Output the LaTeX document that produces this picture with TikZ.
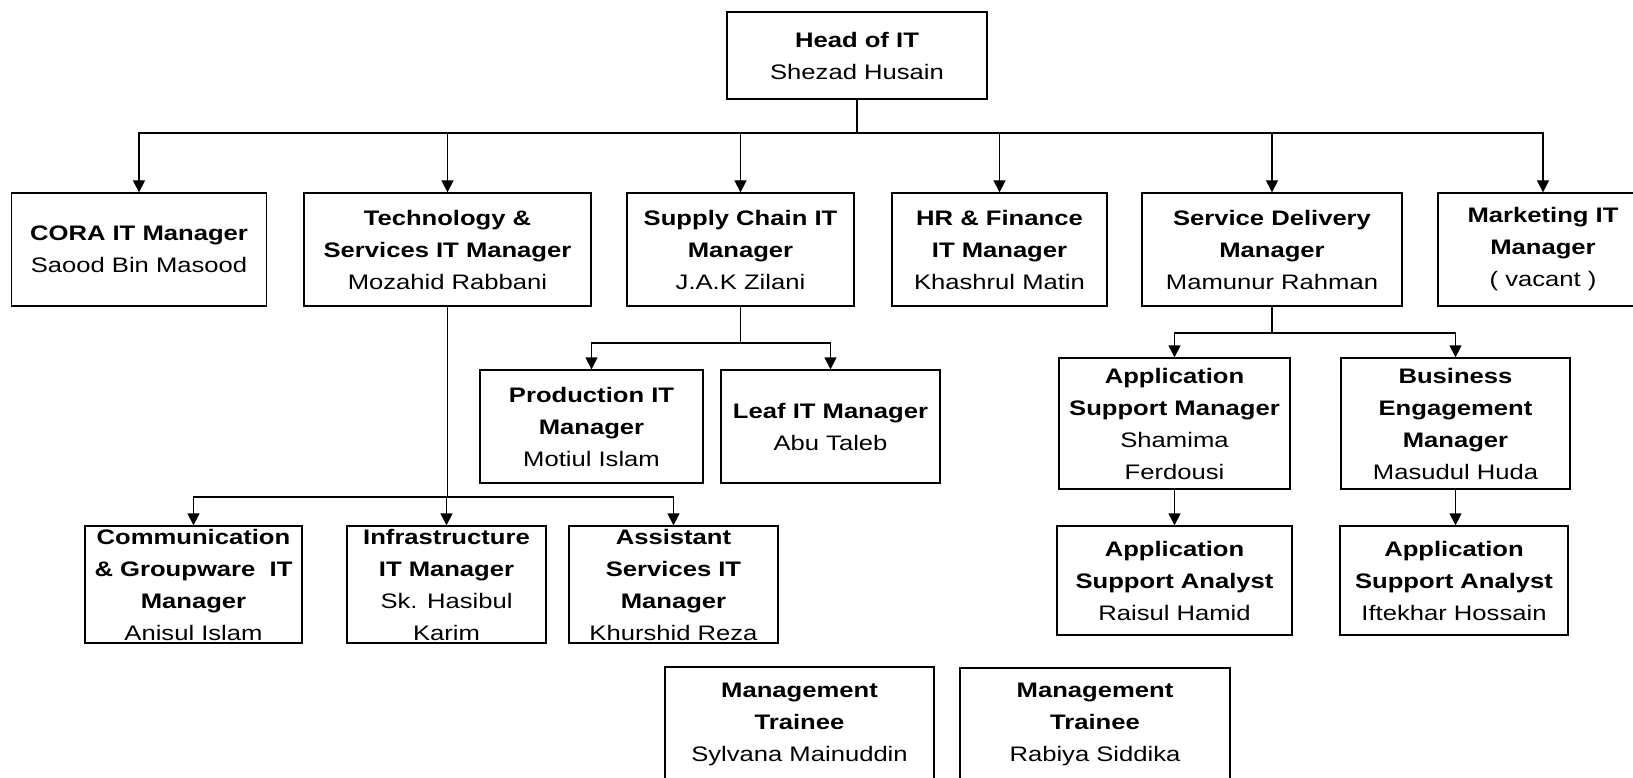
\documentclass[tikz,border=0pt]{standalone}
\usepackage{fontspec}
\setmainfont{Liberation Sans}[FakeStretch=1.22]
\usetikzlibrary{arrows.meta}

\tikzset{
  box/.style={draw, line width=1.3pt, inner sep=0pt, align=center,
    font=\fontsize{21}{32}\selectfont},
  link/.style={line width=1.3pt},
  arr/.style={link, -{Triangle[width=12pt,length=12pt]}}
}

\begin{document}
\begin{tikzpicture}[x=1pt,y=-1pt]
\useasboundingbox (0,0) rectangle (1633,778);

% top level
\node[box, minimum width=260pt, minimum height=87pt] (head) at (857,55.5)
  {\textbf{Head of IT}\\Shezad Husain};

% managers reporting to the head of IT
\node[box, minimum width=255pt, minimum height=113pt] (cora) at (139,249.5)
  {\textbf{CORA IT Manager}\\Saood Bin Masood};
\node[box, minimum width=287pt, minimum height=113pt] (tech) at (447.5,249.5)
  {\textbf{Technology \&}\\\textbf{Services IT Manager}\\Mozahid Rabbani};
\node[box, minimum width=227pt, minimum height=113pt] (supply) at (740.5,249.5)
  {\textbf{Supply Chain IT}\\\textbf{Manager}\\J.A.K Zilani};
\node[box, minimum width=215pt, minimum height=113pt] (hr) at (999.5,249.5)
  {\textbf{HR \& Finance}\\\textbf{IT Manager}\\Khashrul Matin};
\node[box, minimum width=260pt, minimum height=113pt] (serv) at (1272,249.5)
  {\textbf{Service Delivery}\\\textbf{Manager}\\Mamunur Rahman};
\node[box, minimum width=210pt, minimum height=113pt] (mkt) at (1543,249.5)
  {\textbf{Marketing IT}\\\textbf{Manager}\\( vacant )};

% supply chain team
\node[box, minimum width=223pt, minimum height=113pt] (prod) at (591.5,426.5)
  {\textbf{Production IT}\\\textbf{Manager}\\Motiul Islam};
\node[box, minimum width=219pt, minimum height=113pt] (leaf) at (830.5,426.5)
  {\textbf{Leaf IT Manager}\\Abu Taleb};

% technology & services team
\node[box, minimum width=217pt, minimum height=117pt] (comm) at (193.5,584.5)
  {\textbf{Communication}\\\textbf{\& Groupware\ \ IT}\\\textbf{Manager}\\Anisul Islam};
\node[box, minimum width=199pt, minimum height=117pt] (infra) at (446.5,584.5)
  {\textbf{Infrastructure}\\\textbf{IT Manager}\\Sk. Hasibul\\Karim};
\node[box, minimum width=209pt, minimum height=117pt] (asst) at (673.5,584.5)
  {\textbf{Assistant}\\\textbf{Services IT}\\\textbf{Manager}\\Khurshid Reza};

% service delivery team
\node[box, minimum width=231pt, minimum height=131pt] (asm) at (1174.5,423.5)
  {\textbf{Application}\\\textbf{Support Manager}\\Shamima\\Ferdousi};
\node[box, minimum width=229pt, minimum height=131pt] (be) at (1455.5,423.5)
  {\textbf{Business}\\\textbf{Engagement}\\\textbf{Manager}\\Masudul Huda};
\node[box, minimum width=235pt, minimum height=109pt] (asa1) at (1174.5,580.5)
  {\textbf{Application}\\\textbf{Support Analyst}\\Raisul Hamid};
\node[box, minimum width=228pt, minimum height=109pt] (asa2) at (1454,580.5)
  {\textbf{Application}\\\textbf{Support Analyst}\\Iftekhar Hossain};

% trainees
\node[box, minimum width=269pt, minimum height=114pt] (mt1) at (799.5,724)
  {\textbf{Management}\\\textbf{Trainee}\\Sylvana Mainuddin};
\node[box, minimum width=270pt, minimum height=113pt] (mt2) at (1095,724.5)
  {\textbf{Management}\\\textbf{Trainee}\\Rabiya Siddika};

% bus junctions
\coordinate (hbus) at (857,133);
\coordinate (sbus) at (740.5,343);
\coordinate (sdbus) at (1272,333);
\coordinate (tbus) at (447.5,497);

% head of IT to managers
\draw[link] (head.south) -- (hbus);
\foreach \n in {cora,tech,supply,hr,serv,mkt}
  \draw[arr] (hbus) -| (\n.north);

% supply chain
\draw[link] (supply.south) -- (sbus);
\draw[arr] (sbus) -| (prod.north);
\draw[arr] (sbus) -| (leaf.north);

% technology & services
\draw[link] (tech.south) -- (tbus);
\draw[arr] (tbus) -| (comm.north);
\draw[arr] (tbus) -| (infra.north);
\draw[arr] (tbus) -| (asst.north);

% service delivery
\draw[link] (serv.south) -- (sdbus);
\draw[arr] (sdbus) -| (asm.north);
\draw[arr] (sdbus) -| (be.north);
\draw[arr] (asm.south) -- (asa1.north);
\draw[arr] (be.south) -- (be.south |- asa2.north);
\end{tikzpicture}
\end{document}
